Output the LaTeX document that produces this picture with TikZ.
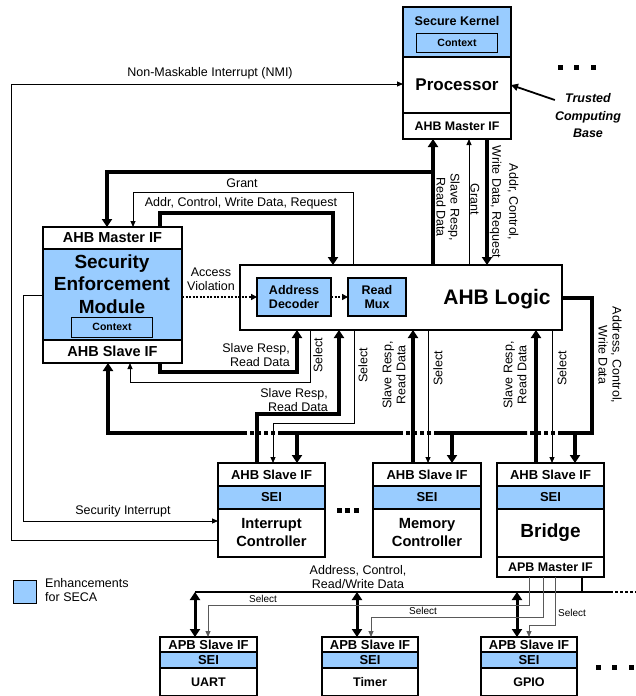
\documentclass[tikz,border=0pt]{standalone}
\usepackage{fontspec}
\setmainfont{Liberation Sans}
\usetikzlibrary{arrows.meta}

\newcommand{\setfs}[2]{\fontsize{#1}{#2}\selectfont}

\begin{document}
\begin{tikzpicture}[x=1pt,y=-1pt,
    blk/.style={draw,line width=1.6pt,inner sep=0pt,outer sep=0pt,anchor=north west,align=center},
    seca/.style={blk,fill=seca_blue},
    lbl/.style={inner sep=0pt,font=\setfs{12.5}{14},align=center},
    fat/.style={line width=3.4pt,-{Triangle[length=8pt,width=10pt]}},
    fatline/.style={line width=3.4pt},
    fatdot/.style={line width=3.4pt,dash pattern=on 4pt off 3pt},
    sig/.style={line width=0.9pt,-{Triangle[length=6pt,width=5pt]}},
    apbsel/.style={line width=0.8pt,draw=black!65,-{Triangle[length=6pt,width=5pt]}},
    dbl/.style={line width=3pt,{Triangle[length=8pt,width=10pt]}-{Triangle[length=8pt,width=10pt]}}]

% ------------------------------------------------ SECA colors
\definecolor{seca_blue}{RGB}{153,204,255} %#99CCFF

\useasboundingbox (0,0) rectangle (636,696);
\fill[white] (0,0) rectangle (636,696);
\clip (0,0) rectangle (636,695.2);

% ------------------------------------------------ processor
\node[seca,minimum width=108pt,minimum height=50pt] (kernel) at (403,7) {};
\node[lbl,font=\bfseries\setfs{12.6}{14}] (kerneltxt) at (457,21) {Secure Kernel};
\node[seca,line width=1pt,anchor=center,minimum width=81pt,minimum height=19pt,font=\bfseries\setfs{10.5}{12}] (kernelctx) at (457,43) {Context};
\node[blk,minimum width=108pt,minimum height=56pt,font=\bfseries\setfs{17}{20}] (proc) at (403,57) {Processor};
\node[blk,minimum width=108pt,minimum height=26pt,font=\bfseries\setfs{12.4}{14}] (procif) at (403,113) {AHB Master IF};

\node[lbl,font=\bfseries\itshape\setfs{12.5}{17.5}] (tcb) at (588,116) {Trusted\\Computing\\Base};
\draw[line width=1.8pt,-{Triangle[length=7pt,width=7pt]}] (tcb.west |- 0,100) -- (proc.east |- 0,85);

% ------------------------------------------------ security enforcement module
\node[blk,minimum width=139pt,minimum height=22pt,font=\bfseries\setfs{14.5}{16}] (semm) at (43,227) {AHB Master IF};
\node[seca,minimum width=139pt,minimum height=91pt] (sem) at (43,249) {};
\node[lbl,font=\bfseries\setfs{19}{22.5}] (semtxt) at (112,284) {Security\\Enforcement\\Module};
\node[seca,line width=1pt,anchor=center,minimum width=81pt,minimum height=20pt,font=\bfseries\setfs{10.5}{12}] (semctx) at (112,327) {Context};
\node[blk,minimum width=139pt,minimum height=23pt,font=\bfseries\setfs{14.5}{16}] (sems) at (43,340) {AHB Slave IF};

% ------------------------------------------------ AHB logic
\node[blk,line width=2.6pt,minimum width=322pt,minimum height=65pt] (logic) at (240,265) {};
\node[lbl,font=\bfseries\setfs{21}{24}] (logictxt) at (497,299) {AHB Logic};
\node[seca,line width=1.2pt,anchor=center,minimum width=74pt,minimum height=38pt,font=\bfseries\setfs{12.5}{14}] (dec) at (294,297) {Address\\Decoder};
\node[seca,line width=1.2pt,anchor=center,minimum width=58pt,minimum height=38pt,font=\bfseries\setfs{12.5}{14}] (mux) at (377,297) {Read\\Mux};

% ------------------------------------------------ AHB slaves
\node[blk,minimum width=107pt,minimum height=23pt,font=\bfseries\setfs{13}{15}] (icif) at (218,463) {AHB Slave IF};
\node[seca,minimum width=107pt,minimum height=23pt,font=\bfseries\setfs{13}{15}] (icsei) at (218,486) {SEI};
\node[blk,minimum width=107pt,minimum height=48pt,font=\bfseries\setfs{14.7}{18}] (ic) at (218,509) {Interrupt\\Controller};

\node[blk,minimum width=108pt,minimum height=23pt,font=\bfseries\setfs{13}{15}] (mcif) at (373,463) {AHB Slave IF};
\node[seca,minimum width=108pt,minimum height=23pt,font=\bfseries\setfs{13}{15}] (mcsei) at (373,486) {SEI};
\node[blk,minimum width=108pt,minimum height=48pt,font=\bfseries\setfs{14.7}{18}] (mc) at (373,509) {Memory\\Controller};

\node[blk,minimum width=107pt,minimum height=23pt,font=\bfseries\setfs{13}{15}] (brif) at (497,463) {AHB Slave IF};
\node[seca,minimum width=107pt,minimum height=23pt,font=\bfseries\setfs{13}{15}] (brsei) at (497,486) {SEI};
\node[blk,minimum width=107pt,minimum height=48pt,font=\bfseries\setfs{19}{22}] (br) at (497,509) {Bridge};
\node[blk,minimum width=107pt,minimum height=20pt,font=\bfseries\setfs{12.5}{14}] (brapb) at (497,557) {APB Master IF};

% ------------------------------------------------ APB slaves
\node[blk,minimum width=97pt,minimum height=15pt,font=\bfseries\setfs{13}{15}] (uartif) at (160,637) {APB Slave IF};
\node[seca,minimum width=97pt,minimum height=16pt,font=\bfseries\setfs{13}{15}] (uartsei) at (160,652) {SEI};
\node[blk,minimum width=97pt,minimum height=28pt,font=\bfseries\setfs{12.5}{14}] (uart) at (160,668) {UART};

\node[blk,minimum width=96pt,minimum height=15pt,font=\bfseries\setfs{13}{15}] (timerif) at (322,637) {APB Slave IF};
\node[seca,minimum width=96pt,minimum height=16pt,font=\bfseries\setfs{13}{15}] (timersei) at (322,652) {SEI};
\node[blk,minimum width=96pt,minimum height=28pt,font=\bfseries\setfs{12.5}{14}] (timer) at (322,668) {Timer};

\node[blk,minimum width=96pt,minimum height=15pt,font=\bfseries\setfs{13}{15}] (gpioif) at (481,637) {APB Slave IF};
\node[seca,minimum width=96pt,minimum height=16pt,font=\bfseries\setfs{13}{15}] (gpiosei) at (481,652) {SEI};
\node[blk,minimum width=96pt,minimum height=28pt,font=\bfseries\setfs{12.5}{14}] (gpio) at (481,668) {GPIO};

% ------------------------------------------------ processor <-> AHB logic
\draw[fat] (logic.north -| 433,0) -- (procif.south -| 433,0);
\draw[sig] (logic.north -| 469,0) -- (procif.south -| 469,0);
\draw[fat] (procif.south -| 487,0) -- (logic.north -| 487,0);
\node[lbl,rotate=-90] (procresp) at (448,207) {Slave Resp,\\Read Data};
\node[lbl,rotate=-90] (procgnt) at (475,199) {Grant};
\node[lbl,rotate=-90] (procreq) at (504,202) {Addr, Control,\\[3pt]Write Data, Request};

% ------------------------------------------------ SEM master <-> AHB logic
\coordinate (rdtap) at (433,172);
\draw[fat] (rdtap) -| (semm.north -| 107,0);
\draw[sig] (logic.north -| 353,0) |- (133,192) -- (semm.north -| 133,0);
\draw[fat] (semm.north -| 160,0) |- (333,213) -- (logic.north -| 333,0);
\node[lbl] (semgnt) at (242,183) {Grant};
\node[lbl] (semreq) at (241,203) {Addr, Control, Write Data, Request};

\draw[line width=2pt,dash pattern=on 2pt off 1.5pt,-{Triangle[length=6pt,width=6pt]}] (sem.east |- dec.west) -- (dec.west);
\draw[line width=2pt,dash pattern=on 2pt off 1.5pt,-{Triangle[length=6pt,width=6pt]}] (dec.east) -- (mux.west);
\node[lbl] (viol) at (211,279) {Access\\Violation};

% ------------------------------------------------ SEM slave <-> AHB logic
\draw[fat] (sems.south -| 160,0) |- (297,372) -- (logic.south -| 297,0);
\draw[sig] (logic.south -| 310,0) |- (130,382) -- (sems.south -| 130,0);
\node[lbl,anchor=east,align=right] (semresp) at (290,355) {Slave Resp,\\Read Data};
\node[lbl,rotate=90] (semsel) at (318,355) {Select};

% ------------------------------------------------ AHB address/control bus
\draw[fatline] (logic.east |- 0,298) -| (592,433) -- (562,433);
\draw[fatdot] (562,433) -- (527,433);
\draw[fatline] (527,433) -- (438,433);
\draw[fatdot] (438,433) -- (400,433);
\draw[fatline] (400,433) -- (282,433);
\draw[fatdot] (282,433) -- (243,433);
\draw[fat] (243,433) -| (sems.south -| 108,0);
\node[lbl,rotate=-90] (busl) at (610,355) {Address, Control,\\Write Data};

\draw[fat] (297,433) -- (icif.north -| 297,0);
\draw[fat] (452,433) -- (mcif.north -| 452,0);
\draw[fat] (575,433) -- (brif.north -| 575,0);

% ------------------------------------------------ slaves <-> AHB logic
\draw[fat] (icif.north -| 257,0) |- (339,414) -- (logic.south -| 339,0);
\draw[sig] (logic.south -| 354,0) |- (273,423) -- (icif.north -| 273,0);
\node[lbl,anchor=east,align=right] (icresp) at (328,400) {Slave Resp,\\Read Data};
\node[lbl,rotate=90] (icsel) at (363,365) {Select};

\draw[fat] (mcif.north -| 413,0) -- (logic.south -| 413,0);
\draw[sig] (logic.south -| 428,0) -- (mcif.north -| 428,0);
\node[lbl,rotate=90] (mcresp) at (394,375) {Slave Resp,\\Read Data};
\node[lbl,rotate=90] (mcsel) at (438,368) {Select};

\draw[fat] (brif.north -| 536,0) -- (logic.south -| 536,0);
\draw[sig] (logic.south -| 552,0) -- (brif.north -| 552,0);
\node[lbl,rotate=90] (brresp) at (515,375) {Slave Resp,\\Read Data};
\node[lbl,rotate=90] (brsel) at (562,368) {Select};

% ------------------------------------------------ interrupts
\draw[sig] (ic.west |- 0,540) -- (11,540) -- (11,84) -- (proc.west |- 0,84);
\node[lbl] (nmi) at (210,73) {Non-Maskable Interrupt (NMI)};
\draw[sig] (sem.west |- 0,295) -- (23,295) -- (23,521) -- (ic.west |- 0,521);
\node[lbl] (secint) at (123,511) {Security Interrupt};

% ------------------------------------------------ APB bus
\draw[line width=2pt] (195,592) -- (610,592);
\draw[line width=2pt,dash pattern=on 3pt off 2pt] (610,592) -- (636,592);
\draw[line width=2pt] (brapb.south -| 582,0) -- (582,592);
\node[lbl] (apbl) at (358,577) {Address, Control,\\Read/Write Data};

\draw[dbl] (195,592) -- (uartif.north -| 195,0);
\draw[dbl] (357,592) -- (timerif.north -| 357,0);
\draw[dbl] (517,592) -- (gpioif.north -| 517,0);

\draw[apbsel] (brapb.south -| 529,0) |- (208,605) -- (uartif.north -| 208,0);
\draw[apbsel] (brapb.south -| 543,0) |- (371,617) -- (timerif.north -| 371,0);
\draw[apbsel] (brapb.south -| 555,0) |- (529,625) -- (gpioif.north -| 529,0);
\node[lbl,font=\setfs{10}{12}] (sel1) at (263,599) {Select};
\node[lbl,font=\setfs{10}{12}] (sel2) at (423,611) {Select};
\node[lbl,font=\setfs{10}{12}] (sel3) at (572,613) {Select};

% ------------------------------------------------ more ...
\foreach \dx in {560,576,593} \fill (\dx-2.5,64.5) rectangle ++(5,5);
\foreach \dx in {339,347.5,356} \fill (\dx-2.5,507.5) rectangle ++(5,5);
\foreach \dx in {598,614,631} \fill (\dx-2.5,664.5) rectangle ++(5,5);

% ------------------------------------------------ legend
\node[seca,line width=1pt,minimum width=23pt,minimum height=23pt] (legbox) at (13,580) {};
\node[lbl,anchor=west,align=left] (legtxt) at (45,590) {Enhancements\\for SECA};

\end{tikzpicture}
\end{document}
